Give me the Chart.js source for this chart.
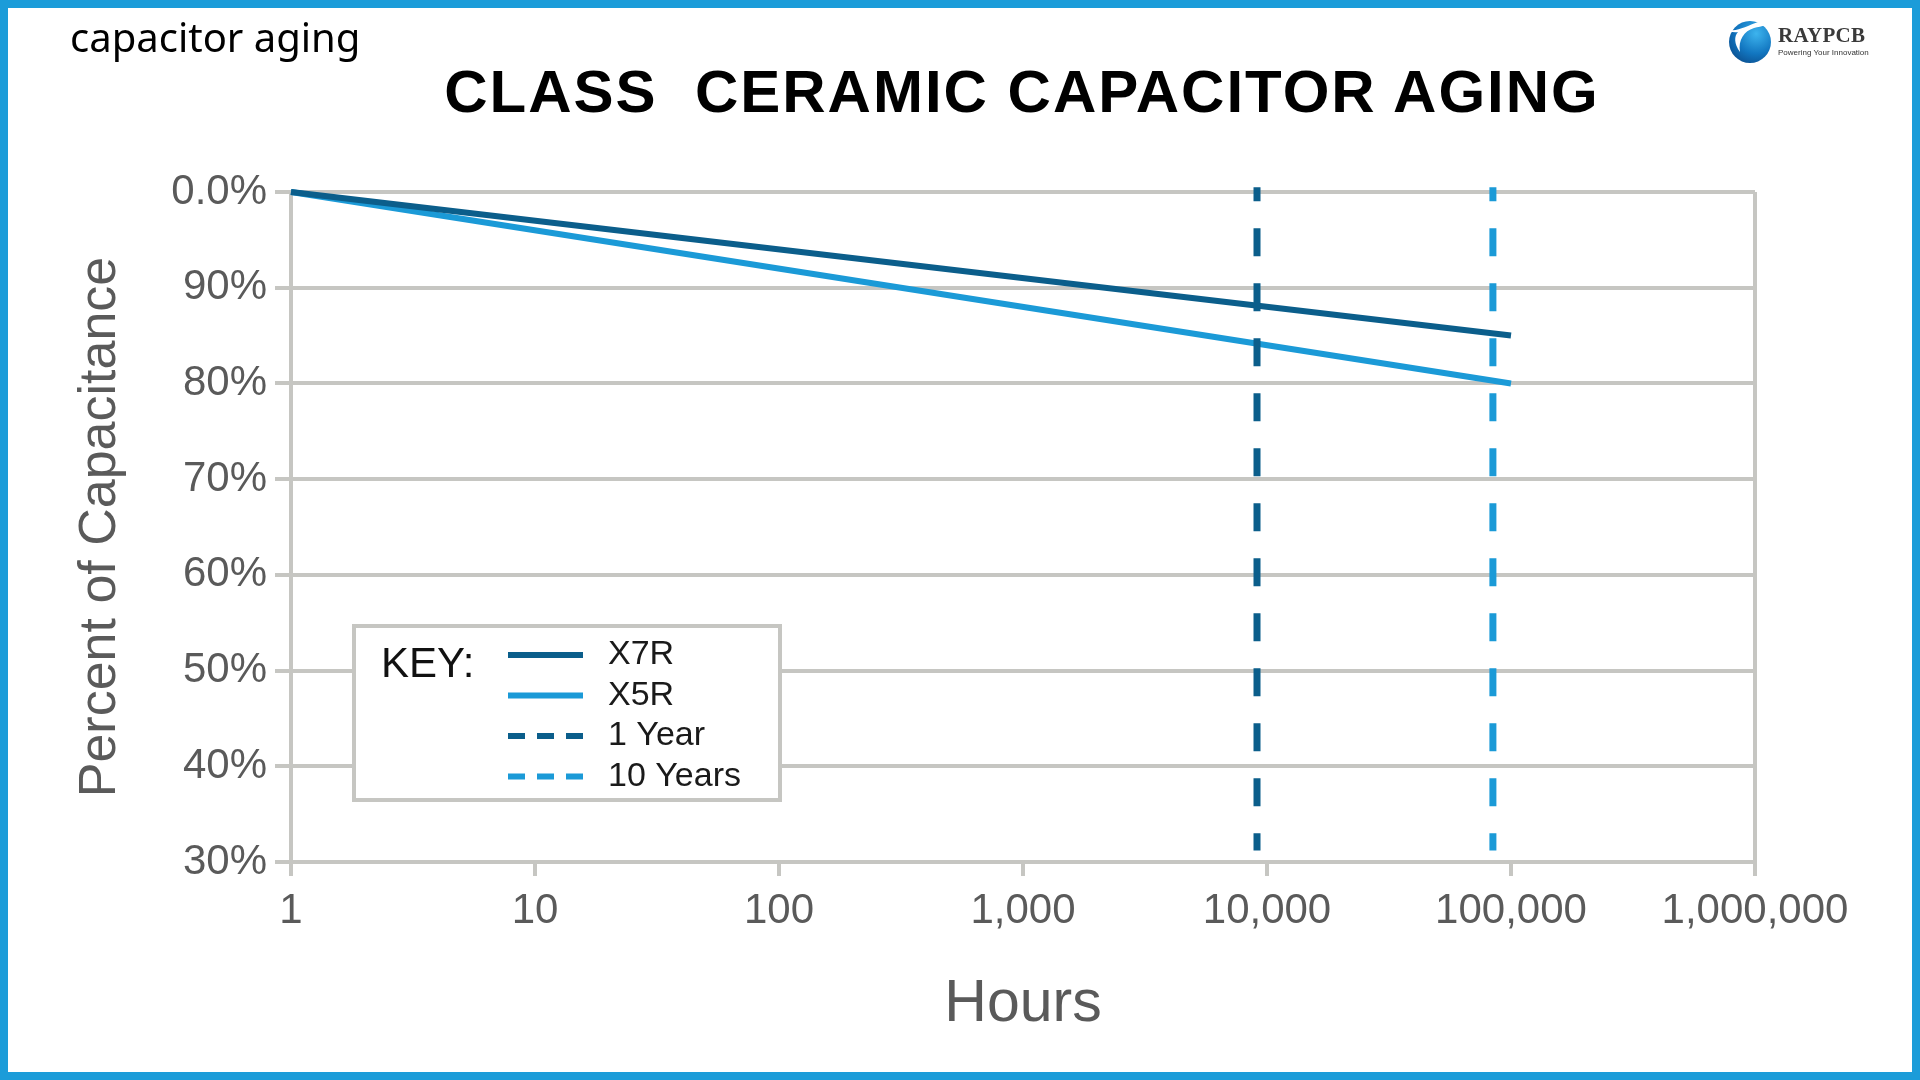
<!DOCTYPE html>
<html><head><meta charset="utf-8">
<script src="https://cdn.jsdelivr.net/npm/chart.js@4.4.1/dist/chart.umd.min.js"></script>
<style>
html,body{margin:0;padding:0;background:#fff;}
#wrap{position:relative;width:1920px;height:1080px;overflow:hidden;background:#fff;}
#c{position:absolute;left:0;top:0;}
#frame{position:absolute;left:0;top:0;width:1920px;height:1080px;box-sizing:border-box;border:8px solid #1b9cd9;pointer-events:none;}
#sub{position:absolute;left:70px;top:17px;font-family:'Noto Sans',sans-serif;font-size:40px;line-height:40px;color:#000;white-space:pre;}
#title{position:absolute;left:0;top:62px;width:2044px;text-align:center;font-family:'Liberation Sans',Arial,sans-serif;font-weight:bold;font-size:60px;line-height:60px;letter-spacing:2px;color:#000;white-space:pre;}
#logo{position:absolute;left:1724px;top:16px;width:160px;height:48px;}
#logo svg{position:absolute;left:0;top:2px;}
#logoName{position:absolute;left:54px;top:9px;font-family:'Liberation Serif',serif;font-weight:bold;font-size:21px;line-height:21px;color:#3a3a3a;letter-spacing:0.3px;}
#logoTag{position:absolute;left:54px;top:33px;font-family:'Liberation Sans',Arial,sans-serif;font-size:8px;line-height:8px;color:#333;white-space:nowrap;}
</style>
</head>
<body>
<div id="wrap">
  <canvas id="c" width="1920" height="1080"></canvas>
  <div id="sub">capacitor aging</div>
  <div id="title">CLASS  CERAMIC CAPACITOR AGING</div>
  <div id="logo">
    <svg width="50" height="46" viewBox="0 0 50 46">
      <defs>
        <radialGradient id="g1" cx="0.65" cy="0.3" r="0.8">
          <stop offset="0" stop-color="#3db4ee"/>
          <stop offset="0.6" stop-color="#1276c0"/>
          <stop offset="1" stop-color="#0b4f8f"/>
        </radialGradient>
      </defs>
      <circle cx="26" cy="24" r="21" fill="url(#g1)"/>
      <path d="M2 10 C 10 16, 22 8, 34 4 C 42 2, 46 4, 47 1 C 46 8, 38 8, 30 10 C 20 13, 14 22, 16 34 C 10 26, 10 18, 14 14 C 9 15, 4 13, 2 10 Z" fill="#ffffff"/>
    </svg>
    <div id="logoName">RAYPCB</div>
    <div id="logoTag">Powering Your Innovation</div>
  </div>
  <div id="frame"></div>
</div>
<script>
// ---- data ----
const seriesNames = ['X7R', 'X5R', '1 Year', '10 Years'];
const x7rHours = [1, 100000];
const x7rPercent = [100, 85];
const x5rHours = [1, 100000];
const x5rPercent = [100, 80];
const oneYearHours = [9100, 9100];
const oneYearSpan = [100.5, 31.2];
const tenYearHours = [84300, 84300];
const tenYearSpan = [100.5, 31.2];
const xTickValues = [1, 10, 100, 1000, 10000, 100000, 1000000];
const xTickLabels = ['1', '10', '100', '1,000', '10,000', '100,000', '1,000,000'];
const yTickLabels = ['30%', '40%', '50%', '60%', '70%', '80%', '90%', '0.0%'];

const DARK = '#0b5e8b';
const LIGHT = '#1b9ad7';
const GRID = '#c6c6c2';
const TEXT = '#5a5a5a';
const FONT = "'Liberation Sans', Arial, sans-serif";

function pts(xs, ys) { return xs.map((x, i) => ({ x: x, y: ys[i] })); }

const keyLegend = {
  id: 'keyLegend',
  afterDraw(chart, args, o) {
    const ctx = chart.ctx;
    ctx.save();
    ctx.fillStyle = '#ffffff';
    ctx.fillRect(o.x, o.y, o.w, o.h);
    ctx.strokeStyle = GRID;
    ctx.lineWidth = 4;
    ctx.strokeRect(o.x, o.y, o.w, o.h);
    ctx.fillStyle = '#111';
    ctx.font = '42px ' + FONT;
    ctx.textBaseline = 'alphabetic';
    ctx.textAlign = 'left';
    ctx.fillText('KEY:', o.keyX, o.keyY);
    chart.data.datasets.forEach((ds, i) => {
      const yc = o.rowY + i * o.rowGap;
      ctx.beginPath();
      ctx.strokeStyle = ds.borderColor;
      ctx.lineWidth = 6;
      ctx.lineCap = 'butt';
      ctx.setLineDash(ds.borderDash && ds.borderDash.length ? [17, 12] : []);
      ctx.moveTo(o.sx0, yc);
      ctx.lineTo(o.sx1, yc);
      ctx.stroke();
      ctx.setLineDash([]);
      ctx.fillStyle = '#1a1a1a';
      ctx.font = '34px ' + FONT;
      ctx.textBaseline = 'middle';
      ctx.fillText(ds.label, o.tx, yc);
    });
    ctx.restore();
  }
};

const lineBase = { fill: false, pointRadius: 0, pointHoverRadius: 0, tension: 0, borderCapStyle: 'butt', clip: false };

new Chart(document.getElementById('c'), {
  type: 'line',
  data: {
    datasets: [
      Object.assign({}, lineBase, { label: seriesNames[0], data: pts(x7rHours, x7rPercent), borderColor: DARK, borderWidth: 6, order: 3 }),
      Object.assign({}, lineBase, { label: seriesNames[1], data: pts(x5rHours, x5rPercent), borderColor: LIGHT, borderWidth: 6, order: 4 }),
      Object.assign({}, lineBase, { label: seriesNames[2], data: pts(oneYearHours, oneYearSpan), borderColor: DARK, borderWidth: 7, borderDash: [28, 27], borderDashOffset: 14, order: 1 }),
      Object.assign({}, lineBase, { label: seriesNames[3], data: pts(tenYearHours, tenYearSpan), borderColor: LIGHT, borderWidth: 7, borderDash: [28, 27], borderDashOffset: 14, order: 2 })
    ]
  },
  options: {
    responsive: false,
    animation: false,
    devicePixelRatio: 1,
    layout: { padding: { left: 0, top: 192, right: 165, bottom: 0 } },
    plugins: {
      legend: { display: false },
      tooltip: { enabled: false },
      keyLegend: { x: 354, y: 626, w: 426, h: 174, keyX: 381, keyY: 677, rowY: 655, rowGap: 40.5, sx0: 508, sx1: 583, tx: 608 }
    },
    scales: {
      x: {
        type: 'logarithmic',
        min: 1,
        max: 1000000,
        afterBuildTicks: (s) => { s.ticks = xTickValues.map(v => ({ value: v })); },
        afterFit: (s) => { s.height = 218; s.paddingLeft = 0; s.paddingRight = 0; },
        ticks: {
          autoSkip: false, maxRotation: 0, padding: 10,
          color: TEXT, font: { family: FONT, size: 42 },
          callback: (v, i) => xTickLabels[i]
        },
        grid: {
          color: (c) => (c.index === 0 || c.index === xTickValues.length - 1) ? GRID : 'rgba(0,0,0,0)',
          tickColor: GRID, lineWidth: 4, tickLength: 14, drawTicks: true
        },
        border: { display: true, color: GRID, width: 4 },
        title: { display: true, text: 'Hours', color: TEXT, font: { family: FONT, size: 59 }, padding: { top: 0, bottom: 40 } }
      },
      y: {
        type: 'linear',
        min: 30,
        max: 100,
        afterFit: (s) => { s.width = 291; s.paddingTop = 0; s.paddingBottom = 0; },
        ticks: {
          stepSize: 10, padding: 8,
          color: TEXT, font: { family: FONT, size: 42 },
          callback: (v, i) => yTickLabels[i]
        },
        grid: { color: GRID, tickColor: GRID, lineWidth: 4, tickLength: 16 },
        border: { display: true, color: GRID, width: 4 },
        title: { display: true, text: 'Percent of Capacitance', color: TEXT, font: { family: FONT, size: 52 }, padding: { top: 69, bottom: 0 } }
      }
    }
  },
  plugins: [keyLegend]
});
</script>
</body></html>
